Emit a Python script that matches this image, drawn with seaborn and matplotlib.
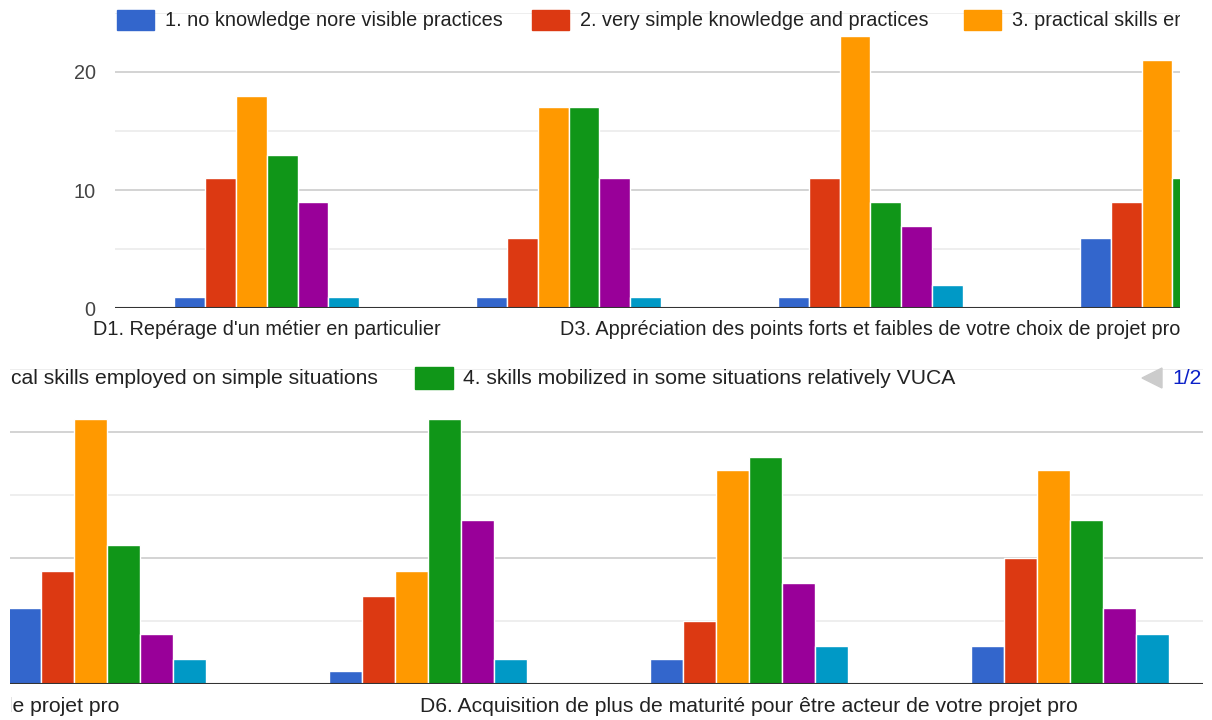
import matplotlib
matplotlib.use('Agg')
import matplotlib.pyplot as plt
import matplotlib.patches as mpatches
from matplotlib.transforms import Bbox
import pandas as pd
import seaborn as sns

# survey items (only D1, D3, D6 labels are readable in the screenshot)
items = ["D1. Repérage d'un métier en particulier",
         "D2",
         "D3. Appréciation des points forts et faibles de votre choix de projet pro",
         "D4",
         "D5",
         "D6. Acquisition de plus de maturité pour être acteur de votre projet pro",
         "D7"]
levels = ["1. no knowledge nore visible practices",
          "2. very simple knowledge and practices",
          "3. practical skills employed on simple situations",
          "4. skills mobilized in some situations relatively VUCA",
          "5.",
          "6."]
colors = ["#3366cc", "#dc3912", "#ff9900", "#109618", "#990099", "#0099c6"]

lvl1 = [1, 1, 1, 6, 1, 2, 3]
lvl2 = [11, 6, 11, 9, 7, 5, 10]
lvl3 = [18, 17, 23, 21, 9, 17, 17]
lvl4 = [13, 17, 9, 11, 21, 18, 13]
lvl5 = [9, 11, 7, 4, 13, 8, 6]
lvl6 = [1, 1, 2, 2, 2, 3, 4]

rows = []
for lev, vals in zip(levels, [lvl1, lvl2, lvl3, lvl4, lvl5, lvl6]):
    for it, v in zip(items, vals):
        rows.append({'item': it, 'level': lev, 'count': v})
df = pd.DataFrame(rows)

sns.set_style('white')
plt.rcParams['font.family'] = ['Liberation Sans', 'DejaVu Sans']

W, H = 1212, 720
fig = plt.figure(figsize=(W / 100, H / 100), dpi=100)


def box(l, t, r, b):
    return [l / W, 1 - b / H, (r - l) / W, (b - t) / H]


def draw(ax, xlim):
    sns.barplot(data=df, x='item', y='count', hue='level', order=items,
                hue_order=levels, palette=colors, saturation=1, width=0.615,
                edgecolor='white', linewidth=1, legend=False, ax=ax)
    for v in [5, 10, 15, 20, 25]:
        ax.axhline(v, color='#cccccc' if v % 10 == 0 else '#ebebeb', lw=1.2, zorder=0)
    ax.axhline(0, color='#333333', lw=1.5, zorder=3)
    ax.set_ylim(0, 25)
    ax.set_xlim(*xlim)
    sns.despine(ax=ax, left=True, bottom=True)
    ax.set_xticks([])
    ax.set_xlabel('')
    ax.set_ylabel('')


# top screenshot
ax1 = fig.add_axes(box(115, 308.5 - 25 * 11.83, 1180, 308.5))
draw(ax1, (-0.502, 3.025))
ax1.set_yticks([0, 10, 20])
ax1.tick_params(axis='y', length=0, pad=14, labelsize=14.3, labelcolor='#444444')
for i in [0, 2]:
    ax1.text(i, -21 / 295.7, items[i], transform=ax1.get_xaxis_transform(),
             ha='center', va='center', fontsize=14.3, color='#222222', clip_on=False)

# bottom screenshot (scrolled, slightly zoomed)
ax2 = fig.add_axes(box(10, 684 - 25 * 12.6, 1203, 684))
draw(ax2, (2.698, 6.414))
ax2.set_yticks([])
for i, dx in [(2, 0.016), (5, 0.0)]:
    t = ax2.text(i + dx, -23 / 315, items[i], transform=ax2.get_xaxis_transform(),
                 ha='center', va='center', fontsize=15.2, color='#222222')
    t.set_clip_on(True)
    t.set_clip_box(Bbox.from_extents(11, 0, W, H))

# legend row, page 1 (top)
lg1 = fig.add_axes(box(115, 0, 1180, 40))
lg1.set_xlim(115, 1180)
lg1.set_ylim(40, 0)
lg1.axis('off')
for x, i in zip([117, 532, 964], [0, 1, 2]):
    lg1.add_patch(mpatches.Rectangle((x, 10), 37, 20, color=colors[i]))
    lg1.text(x + 48, 20, levels[i], va='center', ha='left', fontsize=14.3,
             color='#222222', clip_on=True)

# legend row, page 1 (bottom, scrolled)
lg2 = fig.add_axes(box(10, 356, 1212, 400))
lg2.set_xlim(10, 1212)
lg2.set_ylim(400, 356)
lg2.axis('off')
lg2.text(378, 378, levels[2], va='center', ha='right', fontsize=15.2,
         color='#222222', clip_on=True)
lg2.add_patch(mpatches.Rectangle((415, 367), 38, 22, color=colors[3]))
lg2.text(463, 378, levels[3], va='center', ha='left', fontsize=15.2, color='#222222')
lg2.add_patch(mpatches.Polygon([(1142, 378), (1162, 368), (1162, 388)], color='#cccccc'))
lg2.text(1172, 378, '1/2', va='center', ha='left', fontsize=15.2, color='#0b20c8')

fig.savefig('out.png', dpi=100)
